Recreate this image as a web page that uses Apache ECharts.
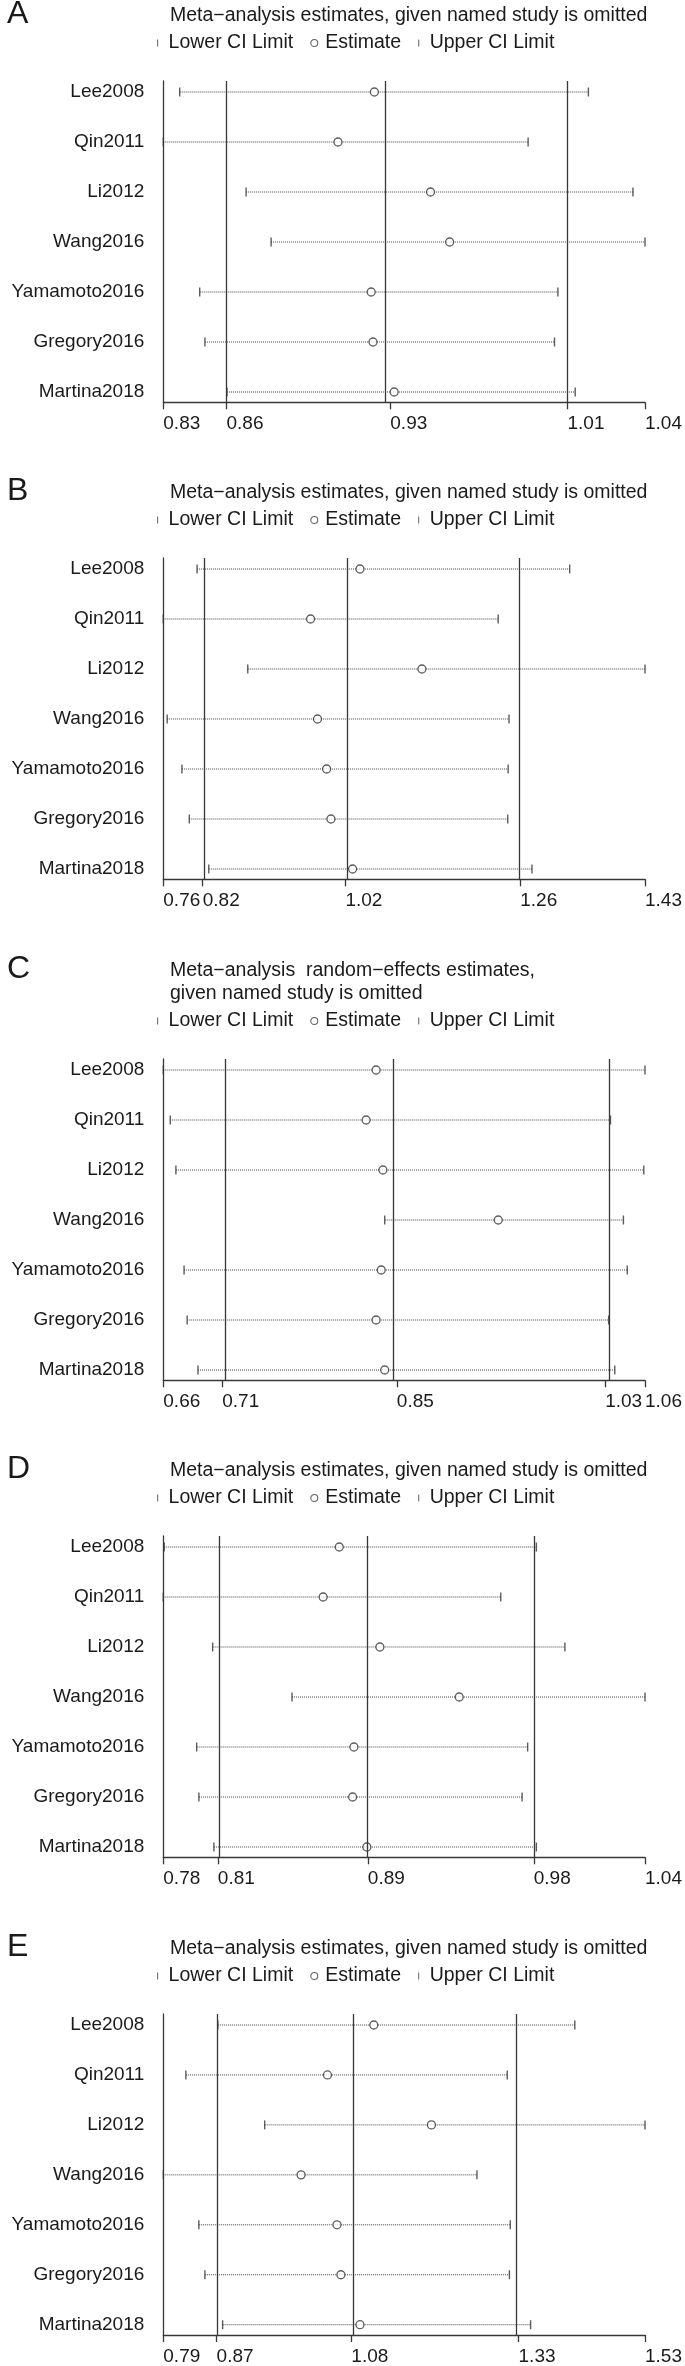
<!DOCTYPE html>
<html><head><meta charset="utf-8">
<script src="https://cdn.jsdelivr.net/npm/echarts@6/dist/echarts.min.js"></script>
<style>html,body{margin:0;padding:0;background:#fff}#c{width:685px;height:2366px}</style>
</head><body><div id="c"></div>
<script>
// ---------- data ----------
const studies = ['Lee2008', 'Qin2011', 'Li2012', 'Wang2016', 'Yamamoto2016', 'Gregory2016', 'Martina2018'];
const panelLetters = ['A', 'B', 'C', 'D', 'E'];
const panelTitles = [
  'Meta\u2212analysis estimates, given named study is omitted',
  'Meta\u2212analysis estimates, given named study is omitted',
  'Meta\u2212analysis  random\u2212effects estimates,\ngiven named study is omitted',
  'Meta\u2212analysis estimates, given named study is omitted',
  'Meta\u2212analysis estimates, given named study is omitted'
];
const legendNames = ['Lower CI Limit', 'Estimate', 'Upper CI Limit'];

// overall [lower CI, estimate, upper CI] (vertical reference lines)
const aOverall = [0.8603, 0.9323, 1.0102];
const aLower = [0.8397, 0.8325, 0.8689, 0.8799, 0.8485, 0.8508, 0.8605];
const aEst   = [0.9253, 0.9093, 0.9500, 0.9584, 0.9239, 0.9247, 0.9340];
const aUpper = [1.0194, 0.9929, 1.0390, 1.0443, 1.0060, 1.0045, 1.0136];

const bOverall = [0.818, 1.017, 1.2609];
const bLower = [0.8101, 0.763, 0.8808, 0.7684, 0.789, 0.7993, 0.8264];
const bEst   = [1.0373, 0.9684, 1.1237, 0.9781, 0.9908, 0.9968, 1.027];
const bUpper = [1.3298, 1.2301, 1.4349, 1.2452, 1.244, 1.2434, 1.2772];

const cOverall = [0.7076, 0.8531, 1.0267];
const cLower = [0.6585, 0.6643, 0.669, 0.843, 0.6758, 0.6784, 0.6874];
const cEst   = [0.8358, 0.8275, 0.8415, 0.9376, 0.8401, 0.8358, 0.843];
const cUpper = [1.0599, 1.0311, 1.0589, 1.0419, 1.0451, 1.0296, 1.0347];

const dOverall = [0.8094, 0.8903, 0.9798];
const dLower = [0.7805, 0.78, 0.8066, 0.8494, 0.798, 0.7992, 0.8073];
const dEst   = [0.8749, 0.8662, 0.8968, 0.9396, 0.8828, 0.8821, 0.8898];
const dUpper = [0.9812, 0.962, 0.9966, 1.0398, 0.9765, 0.9735, 0.9812];

const eOverall = [0.8697, 1.0764, 1.3329];
const eLower = [0.8717, 0.8226, 0.9435, 0.788, 0.8425, 0.8518, 0.879];
const eEst   = [1.1109, 1.0398, 1.1993, 0.9993, 1.0544, 1.0604, 1.0897];
const eUpper = [1.4192, 1.3156, 1.5269, 1.2691, 1.3202, 1.3189, 1.3514];

const panels = [
  { lower: aLower, est: aEst, upper: aUpper, overall: aOverall },
  { lower: bLower, est: bEst, upper: bUpper, overall: bOverall },
  { lower: cLower, est: cEst, upper: cUpper, overall: cOverall },
  { lower: dLower, est: dEst, upper: dUpper, overall: dOverall },
  { lower: eLower, est: eEst, upper: eUpper, overall: eOverall }
];

// ---------- layout ----------
const rowTops = [92, 569, 1070, 1547, 2025];
const FONT = "'Liberation Sans', Arial, Helvetica, sans-serif";
const INK = '#1a1a1a';
const LINE = '#383838';

const option = {
  animation: false,
  backgroundColor: '#fff',
  textStyle: { fontFamily: FONT },
  title: [], legend: [], grid: [], xAxis: [], yAxis: [], series: []
};

panels.forEach((p, k) => {
  const r = rowTops[k];
  const nLines = panelTitles[k].split('\n').length;
  const extra = (nLines - 1) * 23;
  option.title.push({
    text: panelLetters[k], left: 2, top: r - 77 - extra - 22, padding: 5,
    textStyle: { fontSize: 32, fontWeight: 'normal', color: INK, fontFamily: FONT }
  });
  option.title.push({
    text: panelTitles[k], left: 165, top: r - 77 - extra - 16,
    textStyle: { fontSize: 19.5, fontWeight: 'normal', color: INK, lineHeight: 23, fontFamily: FONT }
  });
  option.legend.push({
    data: [
      { name: legendNames[0], icon: 'path://M0,0h1v6h-1z', itemStyle: { color: '#555', borderWidth: 0 } },
      { name: legendNames[1], icon: 'circle', itemStyle: { color: '#fff', borderColor: '#3c3c3c', borderWidth: 1.1 } },
      { name: legendNames[2], icon: 'path://M0,0h1v6h-1z', itemStyle: { color: '#555', borderWidth: 0 } }
    ],
    left: 157, top: r - 51 - 8, itemWidth: 12, itemHeight: 7, itemGap: 17,
    selectedMode: false, padding: 0,
    textStyle: { fontSize: 19.5, color: INK, fontFamily: FONT }
  });
  option.grid.push({ left: 163.3, right: 36, top: r - 11, height: 321.3, containLabel: false });

  const xmin = Math.min(...p.lower);
  const xmax = Math.max(...p.upper);
  const ticks = [xmin].concat(p.overall, [xmax]);
  option.xAxis.push({
    type: 'value', gridIndex: k, min: xmin, max: xmax,
    axisLine: { show: true, onZero: false, lineStyle: { color: LINE, width: 1.3 } },
    axisTick: { show: true, customValues: ticks, length: 7, lineStyle: { color: LINE, width: 1.3 } },
    axisLabel: { customValues: ticks, formatter: v => Number(v).toFixed(2), align: 'left',
      margin: 12, fontSize: 19, color: INK, fontFamily: FONT },
    splitLine: { show: false }
  });
  option.yAxis.push({
    type: 'value', gridIndex: k, inverse: true, min: -0.22, max: 6.206,
    axisLine: { show: true, onZero: false, lineStyle: { color: LINE, width: 1.3 } },
    axisTick: { show: false },
    axisLabel: { customValues: studies.map((s, i) => i), formatter: v => studies[Math.round(v)],
      margin: 19, fontSize: 19, color: INK, fontFamily: FONT },
    splitLine: { show: false }
  });

  option.series.push({
    type: 'custom', name: 'CI', xAxisIndex: k, yAxisIndex: k, silent: true, z: 2,
    data: studies.map((s, i) => [p.lower[i], p.upper[i], i]),
    encode: { x: [0, 1], y: 2 },
    renderItem: (params, api) => {
      const a = api.coord([api.value(0), api.value(2)]);
      const b = api.coord([api.value(1), api.value(2)]);
      return { type: 'line', shape: { x1: a[0], y1: a[1], x2: b[0], y2: b[1] },
        style: { stroke: '#444', lineWidth: 1, lineDash: [1, 1] } };
    }
  });
  option.series.push({
    type: 'scatter', name: legendNames[0], xAxisIndex: k, yAxisIndex: k, z: 3, silent: true,
    symbol: 'rect', symbolSize: [1.4, 9], itemStyle: { color: '#333' },
    data: studies.map((s, i) => [p.lower[i], i])
  });
  option.series.push({
    type: 'scatter', name: legendNames[1], xAxisIndex: k, yAxisIndex: k, z: 4, silent: true,
    symbol: 'circle', symbolSize: 8, itemStyle: { color: '#fff', borderColor: '#333', borderWidth: 1.3 },
    data: studies.map((s, i) => [p.est[i], i]),
    markLine: {
      silent: true, symbol: 'none', label: { show: false }, animation: false,
      lineStyle: { color: LINE, type: 'solid', width: 1.3 },
      data: p.overall.map(v => ({ xAxis: v }))
    }
  });
  option.series.push({
    type: 'scatter', name: legendNames[2], xAxisIndex: k, yAxisIndex: k, z: 3, silent: true,
    symbol: 'rect', symbolSize: [1.4, 9], itemStyle: { color: '#333' },
    data: studies.map((s, i) => [p.upper[i], i])
  });
});

const chart = echarts.init(document.getElementById('c'), null, { renderer: 'canvas' });
chart.setOption(option);
</script>
</body></html>
